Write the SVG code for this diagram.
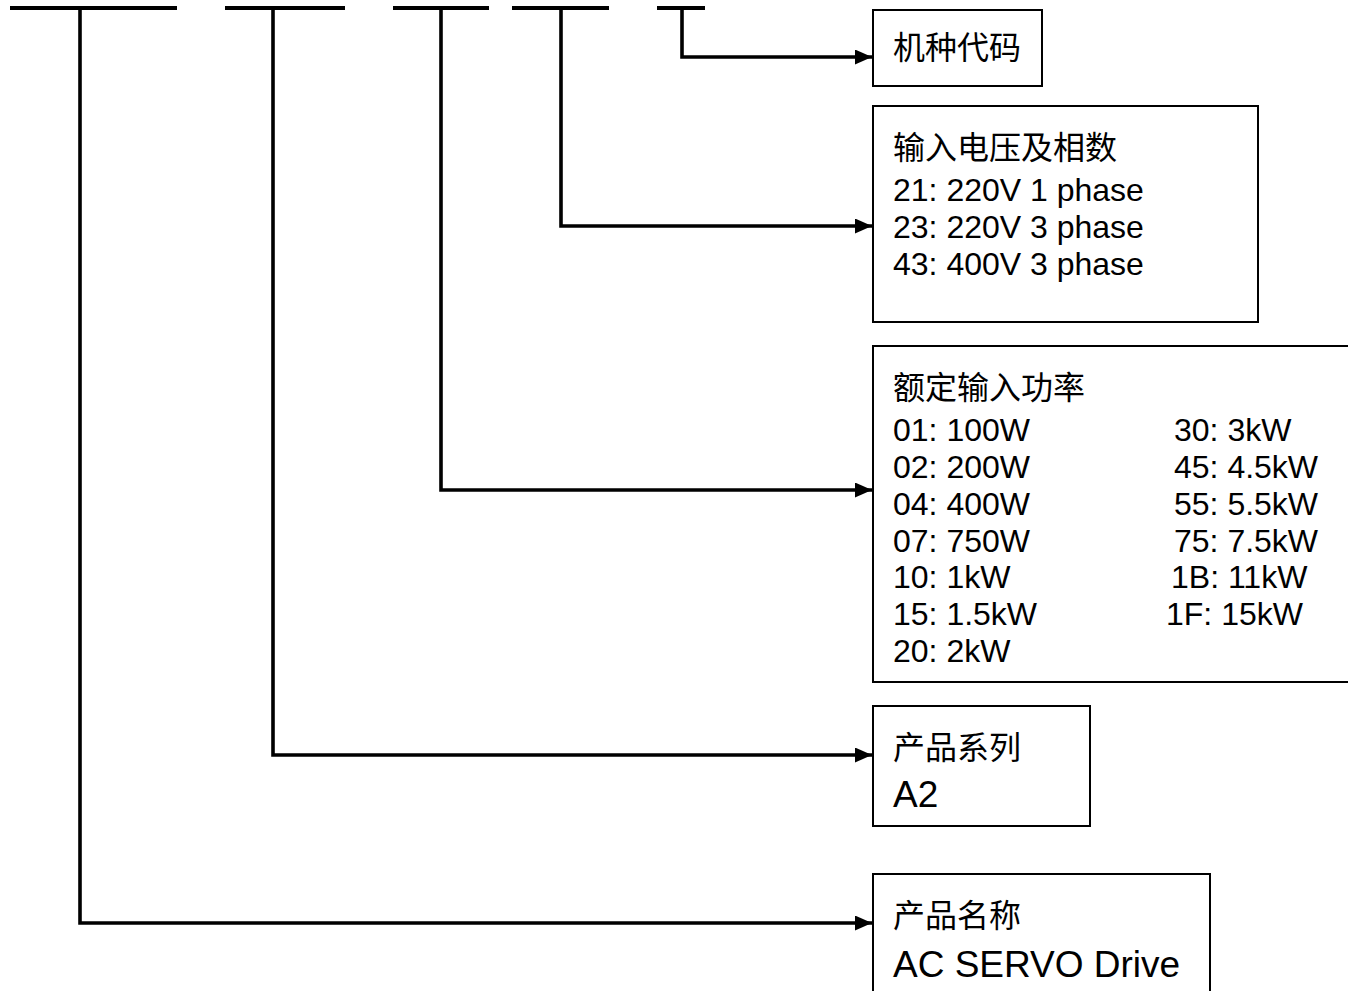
<svg xmlns="http://www.w3.org/2000/svg" width="1348" height="991" viewBox="0 0 1348 991">
  <style>
    .box { fill: #ffffff; stroke: #000000; stroke-width: 2; }
    .ln { fill: none; stroke: #000000; stroke-width: 3.6; stroke-linecap: butt; stroke-linejoin: miter; }
    .tick { fill: none; stroke: #000000; stroke-width: 4; }
    .t { font-family: "Liberation Sans", "Noto Sans CJK SC", Arial, sans-serif; font-size: 32px; fill: #000000; }
    .big { font-family: "Liberation Sans", "Noto Sans CJK SC", Arial, sans-serif; font-size: 37px; fill: #000000; }
  </style>
  <defs>
    <marker id="arr" viewBox="0 0 17 15" refX="17" refY="7.5" markerWidth="17" markerHeight="15" markerUnits="userSpaceOnUse" orient="auto">
      <path d="M0,0 L17,7.5 L0,15 Z" fill="#000000"/>
    </marker>
  </defs>
  <rect x="0" y="0" width="1348" height="991" fill="#ffffff"/>

  <g id="connectors">
    <line class="tick" x1="10" y1="8" x2="177" y2="8"/>
    <line class="tick" x1="225" y1="8" x2="345" y2="8"/>
    <line class="tick" x1="393" y1="8" x2="489" y2="8"/>
    <line class="tick" x1="512" y1="8" x2="609" y2="8"/>
    <line class="tick" x1="657" y1="8" x2="705" y2="8"/>
    <path class="ln" d="M682,8 V57 H872" marker-end="url(#arr)"/>
    <path class="ln" d="M561,8 V226 H872" marker-end="url(#arr)"/>
    <path class="ln" d="M441,8 V490 H872" marker-end="url(#arr)"/>
    <path class="ln" d="M273,8 V755 H872" marker-end="url(#arr)"/>
    <path class="ln" d="M80,8 V923 H872" marker-end="url(#arr)"/>
  </g>

  <g id="node-model-code">
    <rect class="box" x="873" y="10" width="169" height="76"/>
    <text class="t" x="893" y="59">机种代码</text>
  </g>

  <g id="node-voltage">
    <rect class="box" x="873" y="106" width="385" height="216"/>
    <text class="t" x="893" y="159">输入电压及相数</text>
    <text class="t" x="893" y="201">21: 220V 1 phase</text>
    <text class="t" x="893" y="238">23: 220V 3 phase</text>
    <text class="t" x="893" y="275">43: 400V 3 phase</text>
  </g>

  <g id="node-power">
    <rect class="box" x="873" y="346" width="490" height="336"/>
    <text class="t" x="893" y="399">额定输入功率</text>
    <text class="t" x="893" y="441">01: 100W</text>
    <text class="t" x="893" y="478">02: 200W</text>
    <text class="t" x="893" y="515">04: 400W</text>
    <text class="t" x="893" y="552">07: 750W</text>
    <text class="t" x="893" y="588">10: 1kW</text>
    <text class="t" x="893" y="625">15: 1.5kW</text>
    <text class="t" x="893" y="662">20: 2kW</text>
    <text class="t" x="1174" y="441">30: 3kW</text>
    <text class="t" x="1174" y="478">45: 4.5kW</text>
    <text class="t" x="1174" y="515">55: 5.5kW</text>
    <text class="t" x="1174" y="552">75: 7.5kW</text>
    <text class="t" x="1171" y="588">1B: 11kW</text>
    <text class="t" x="1166" y="625">1F: 15kW</text>
  </g>

  <g id="node-series">
    <rect class="box" x="873" y="706" width="217" height="120"/>
    <text class="t" x="893" y="759">产品系列</text>
    <text class="big" x="893" y="807">A2</text>
  </g>

  <g id="node-name">
    <rect class="box" x="873" y="874" width="337" height="130"/>
    <text class="t" x="893" y="927">产品名称</text>
    <text class="big" x="893" y="977">AC SERVO Drive</text>
  </g>
</svg>
